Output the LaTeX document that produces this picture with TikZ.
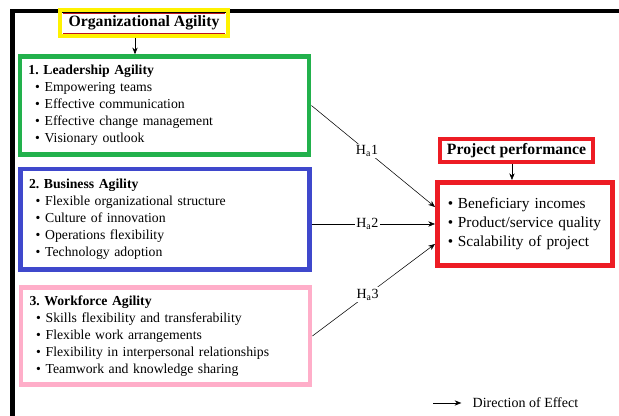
\documentclass[tikz,border=0pt]{standalone}
\usepackage{fontspec}
\setmainfont{Liberation Serif}
\usetikzlibrary{arrows.meta, positioning}

\definecolor{leadgreen}{RGB}{34,177,76}
\definecolor{busblue}{RGB}{63,72,204}
\definecolor{workpink}{RGB}{255,174,201}
\definecolor{orgyellow}{RGB}{255,242,0}
\definecolor{perfred}{RGB}{237,28,36}

\frenchspacing

\begin{document}
\begin{tikzpicture}[
    x=0.75pt, y=-0.75pt,
    block/.style={rectangle, draw, line width=3.4pt, align=left, inner xsep=6.4pt, text width=204pt, minimum width=217pt, minimum height=74pt, font=\fontsize{10.3}{12.75}\selectfont},
    title/.style={rectangle, draw, line width=3pt, inner sep=0pt, font=\fontsize{11.8}{14}\selectfont\bfseries},
    arrow/.style={-{Stealth[length=5pt, width=4pt]}, thin},
    hyp/.style={fill=white, inner sep=1pt, font=\fontsize{10.5}{12}\selectfont}
]

\useasboundingbox (0,0) rectangle (619,416);

% frame on the left and top
\draw[line width=3.4pt] (12.5,416) |- (619,11);

\node[title, draw=orgyellow, minimum width=126pt, minimum height=19.5pt] (org) at (144,23) {Organizational Agility};
\draw[perfred!80!black, line width=0.5pt] ([shift={(4pt,-3.8pt)}]org.north west) -- ([shift={(-4pt,-3.8pt)}]org.north east);
\draw[perfred!80!black, line width=0.5pt] ([shift={(4pt,3.8pt)}]org.south west) -- ([shift={(-4pt,3.8pt)}]org.south east);

\node[block, draw=leadgreen, minimum height=73.5pt] (lead) at (164.5,105.5) {\textbf{1. Leadership Agility}\\
    \hspace*{5pt}\textbullet\hspace{3.5pt}Empowering teams\\
    \hspace*{5pt}\textbullet\hspace{3.5pt}Effective communication\\
    \hspace*{5pt}\textbullet\hspace{3.5pt}Effective change management\\
    \hspace*{5pt}\textbullet\hspace{3.5pt}Visionary outlook};

\node[block, draw=busblue, minimum height=75.4pt] (bus) at (165,219.5) {\textbf{2. Business Agility}\\
    \hspace*{5pt}\textbullet\hspace{3.5pt}Flexible organizational structure\\
    \hspace*{5pt}\textbullet\hspace{3.5pt}Culture of innovation\\
    \hspace*{5pt}\textbullet\hspace{3.5pt}Operations flexibility\\
    \hspace*{5pt}\textbullet\hspace{3.5pt}Technology adoption};

\node[block, draw=workpink, minimum height=73pt] (work) at (165.5,336) {\textbf{3. Workforce Agility}\\
    \hspace*{5pt}\textbullet\hspace{3.5pt}Skills flexibility and transferability\\
    \hspace*{5pt}\textbullet\hspace{3.5pt}Flexible work arrangements\\
    \hspace*{5pt}\textbullet\hspace{3.5pt}Flexibility in interpersonal relationships\\
    \hspace*{5pt}\textbullet\hspace{3.5pt}Teamwork and knowledge sharing};

\node[title, draw=perfred, minimum width=115pt, minimum height=17.25pt] (perf) at (516.5,150.5) {Project performance};

\node[block, draw=perfred, inner xsep=8pt, text width=115.6pt, minimum width=131.6pt, minimum height=62.6pt, font=\fontsize{11.5}{14.25}\selectfont] (outcome) at (525,224) {\textbullet\hspace{3.5pt}Beneficiary incomes\\
    \textbullet\hspace{3.5pt}Product/service quality\\
    \textbullet\hspace{3.5pt}Scalability of project};

\draw[arrow] ([xshift=-6.75pt]org.south) -- ([xshift=-6.75pt]org.south |- lead.north);
\draw[arrow] ([xshift=-3.4pt]perf.south) -- ([xshift=-3.4pt]perf.south |- outcome.north);

\draw[arrow] (lead.east) -- node[hyp, pos=0.45] {H\textsubscript{a}1} ([yshift=12.75pt]outcome.west);
\draw[arrow] (bus.east |- outcome.west) -- node[hyp, pos=0.45] {H\textsubscript{a}2} (outcome.west);
\draw[arrow] (work.east) -- node[hyp, pos=0.45] {H\textsubscript{a}3} ([yshift=-15pt]outcome.west);

% legend
\coordinate (legtail) at (433,403);
\node[anchor=west, font=\fontsize{10.5}{12}\selectfont] (legend) at (468,403) {Direction of Effect};
\draw[arrow, shorten >=5pt] (legtail) -- (legend.west);

\end{tikzpicture}
\end{document}
